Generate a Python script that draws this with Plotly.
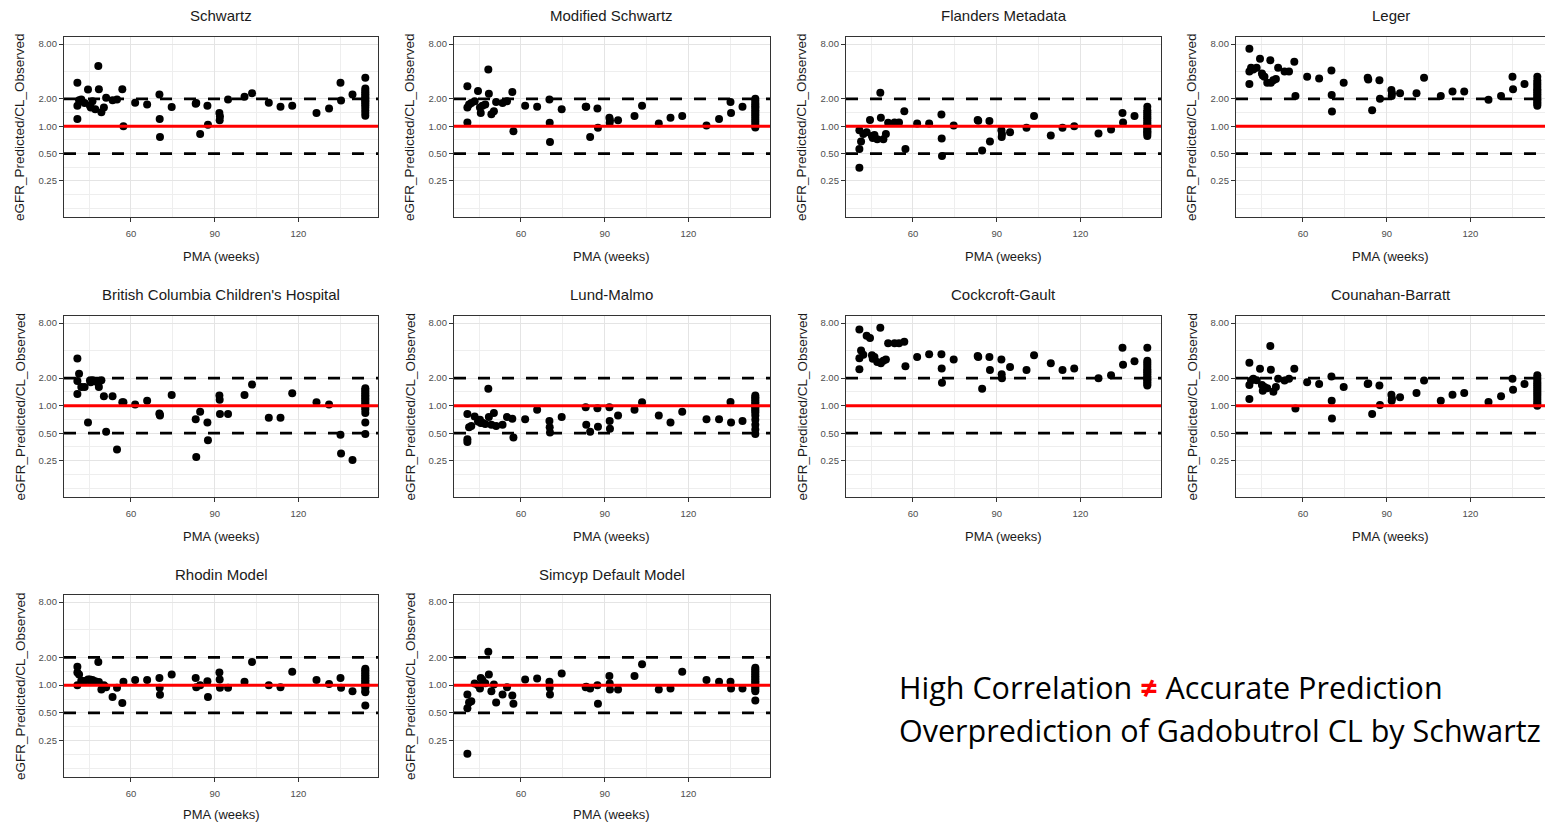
import plotly.graph_objects as go

W, H = 1545, 822

# Postmenstrual age of each subject (weeks); the same subjects appear in every panel
pma_weeks = [40.8, 40.8, 40.8, 41.4, 42.2, 43.4, 44.6, 45.3, 45.6, 46.2,
             47.2, 48.3, 48.5, 49.4, 50.3, 51.1, 53.4, 55.0, 56.9, 57.3,
             61.5, 65.8, 70.2, 70.3, 70.4, 74.6, 83.2, 83.4, 84.8, 87.4,
             87.6, 91.7, 91.8, 91.9, 94.8, 100.7, 103.4, 109.4, 113.6, 117.8,
             126.5, 131.0, 135.1, 135.3, 139.4,
             144.0, 144.0, 144.0, 144.0, 144.0, 144.0, 144.0, 144.0,
             144.0, 144.0, 144.0, 144.0, 144.0, 144.0, 144.0, 144.0]

# eGFR_Predicted / CL_Observed for each eGFR model
schwartz = [3.0, 1.2, 1.68, 1.93, 1.97, 1.8, 2.53, 1.68, 1.6, 1.88,
            1.53, 4.58, 2.55, 1.42, 1.6, 2.05, 1.93, 1.97, 2.55, 1.0,
            1.81, 1.73, 2.23, 1.2, 0.76, 1.62, 1.76, 1.8, 0.82, 1.68,
            1.04, 1.4, 1.16, 1.28, 1.97, 2.1, 2.3, 1.81, 1.63, 1.68,
            1.4, 1.56, 3.0, 1.92, 2.23,
            3.4, 2.6, 2.45, 2.35, 2.25, 2.15, 2.05, 2.0,
            1.92, 1.85, 1.78, 1.7, 1.6, 1.5, 1.4, 1.3]
modified_schwartz = [2.75, 1.1, 1.6, 1.73, 1.8, 1.88, 2.43, 1.6, 1.4, 1.68,
                     1.73, 4.2, 2.27, 1.35, 1.46, 1.84, 1.8, 1.88, 2.37, 0.88,
                     1.68, 1.63, 1.97, 1.09, 0.67, 1.53, 1.63, 1.63, 0.76, 1.56,
                     0.96, 1.24, 1.09, 1.16, 1.16, 1.29, 1.68, 1.07, 1.24, 1.29,
                     1.02, 1.2, 1.84, 1.4, 1.63,
                     2.0, 1.9, 1.8, 1.72, 1.65, 1.58, 1.5, 1.43,
                     1.36, 1.3, 1.24, 1.18, 1.12, 1.06, 1.0, 0.97]
flanders_metadata = [0.9, 0.56, 0.35, 0.68, 0.82, 0.86, 1.17, 0.78, 0.74, 0.8,
                     0.72, 2.33, 1.24, 0.72, 0.82, 1.09, 1.1, 1.1, 1.46, 0.56,
                     1.07, 1.07, 1.34, 0.73, 0.47, 1.02, 1.17, 1.15, 0.54, 1.14,
                     0.68, 0.9, 0.76, 0.82, 0.86, 0.96, 1.29, 0.79, 0.96, 1.0,
                     0.83, 0.92, 1.4, 1.1, 1.29,
                     1.63, 1.5, 1.42, 1.35, 1.28, 1.22, 1.16, 1.1,
                     1.05, 1.0, 0.96, 0.92, 0.88, 0.85, 0.82, 0.78]
leger = [7.1, 2.9, 4.0, 4.4, 4.2, 4.4, 5.5, 3.8, 3.6, 3.5,
         3.0, 5.3, 3.0, 3.2, 3.3, 4.4, 4.0, 4.0, 5.1, 2.15,
         3.5, 3.35, 4.1, 2.2, 1.45, 3.0, 3.4, 3.25, 1.5, 3.2,
         2.0, 2.5, 2.15, 2.3, 2.3, 2.3, 3.4, 2.15, 2.4, 2.4,
         1.95, 2.15, 3.5, 2.55, 2.9,
         3.5, 3.2, 3.0, 2.85, 2.7, 2.55, 2.45, 2.35,
         2.25, 2.15, 2.05, 1.98, 1.9, 1.82, 1.75, 1.68]
british_columbia = [3.27, 1.34, 1.86, 2.23, 1.6, 1.6, 0.655, 1.88, 1.8, 1.9,
                    1.85, 1.75, 1.6, 1.9, 1.27, 0.52, 1.27, 0.333, 1.09, 1.09,
                    1.03, 1.13, 0.82, 0.8, 0.78, 1.31, 0.71, 0.275, 0.86, 0.655,
                    0.42, 1.29, 1.16, 0.81, 0.81, 1.31, 1.7, 0.74, 0.74, 1.37,
                    1.09, 1.03, 0.48, 0.3, 0.255,
                    1.55, 1.48, 1.42, 1.36, 1.3, 1.25, 1.2, 1.15,
                    1.1, 1.05, 1.0, 0.95, 0.9, 0.83, 0.655, 0.49]
lund_malmo = [0.81, 0.4, 0.43, 0.58, 0.6, 0.76, 0.67, 0.7, 0.645, 0.65,
              0.63, 1.53, 0.75, 0.62, 0.83, 0.6, 0.62, 0.75, 0.72, 0.45,
              0.71, 0.9, 0.68, 0.58, 0.51, 0.75, 0.96, 0.62, 0.52, 0.94,
              0.59, 0.96, 0.68, 0.56, 0.78, 0.9, 1.09, 0.78, 0.655, 0.86,
              0.71, 0.71, 1.1, 0.655, 0.68,
              1.29, 1.24, 1.19, 1.14, 1.09, 1.04, 1.0, 0.96,
              0.92, 0.88, 0.84, 0.78, 0.7, 0.62, 0.55, 0.49]
cockcroft_gault = [6.8, 3.3, 2.5, 4.0, 3.6, 5.8, 5.5, 3.55, 3.25, 3.4,
                   3.0, 7.1, 2.9, 3.1, 3.2, 4.8, 4.8, 4.8, 5.0, 2.7,
                   3.4, 3.65, 3.65, 2.55, 1.78, 3.2, 3.5, 3.4, 1.53, 3.4,
                   2.45, 3.2, 2.2, 2.0, 2.65, 2.45, 3.55, 2.9, 2.45, 2.55,
                   2.0, 2.15, 4.3, 2.8, 3.05,
                   4.3, 3.1, 2.95, 2.8, 2.65, 2.5, 2.4, 2.3,
                   2.2, 2.1, 2.02, 1.95, 1.88, 1.8, 1.72, 1.66]
counahan_barratt = [2.95, 1.18, 1.68, 1.88, 1.97, 1.9, 2.53, 1.68, 1.46, 1.6,
                    1.55, 4.5, 2.47, 1.42, 1.6, 1.97, 1.88, 1.97, 2.53, 0.93,
                    1.8, 1.73, 2.08, 1.13, 0.725, 1.6, 1.73, 1.75, 0.81, 1.66,
                    1.02, 1.32, 1.13, 1.2, 1.24, 1.38, 1.88, 1.13, 1.32, 1.38,
                    1.1, 1.27, 1.97, 1.49, 1.73,
                    2.15, 2.02, 1.92, 1.82, 1.74, 1.66, 1.58, 1.5,
                    1.43, 1.36, 1.29, 1.22, 1.16, 1.1, 1.05, 1.0]
rhodin = [1.59, 1.37, 1.0, 1.31, 1.12, 1.107, 1.155, 1.15, 1.12, 1.14,
          1.1, 1.79, 1.08, 0.9, 1.0, 0.95, 0.744, 0.935, 0.639, 1.088,
          1.135, 1.135, 1.2, 0.935, 0.789, 1.31, 1.2, 0.95, 1.0, 1.1,
          0.744, 1.37, 1.15, 0.935, 0.935, 1.088, 1.79, 1.0, 0.95, 1.4,
          1.135, 1.03, 1.2, 0.935, 0.86,
          1.51, 1.45, 1.39, 1.33, 1.28, 1.23, 1.18, 1.13,
          1.09, 1.05, 1.01, 0.97, 0.93, 0.86, 0.84, 0.6]
simcyp_default = [0.79, 0.18, 0.56, 0.65, 0.67, 1.04, 1.0, 0.92, 1.2, 1.135,
                  1.05, 2.31, 1.31, 0.86, 1.02, 0.65, 0.79, 0.95, 0.77, 0.63,
                  1.155, 1.18, 1.09, 0.935, 0.79, 1.34, 0.95, 0.96, 0.92, 1.0,
                  0.63, 1.26, 1.04, 0.9, 0.9, 1.26, 1.69, 0.9, 0.92, 1.4,
                  1.135, 1.09, 1.09, 0.92, 0.92,
                  1.55, 1.48, 1.42, 1.36, 1.3, 1.25, 1.2, 1.15,
                  1.1, 1.06, 1.02, 0.98, 0.94, 0.9, 0.86, 0.68]

panel_titles = ["Schwartz", "Modified Schwartz", "Flanders Metadata", "Leger",
                "British Columbia Children's Hospital", "Lund-Malmo",
                "Cockcroft-Gault", "Counahan-Barratt",
                "Rhodin Model", "Simcyp Default Model"]
panel_values = [schwartz, modified_schwartz, flanders_metadata, leger,
                british_columbia, lund_malmo, cockcroft_gault, counahan_barratt,
                rhodin, simcyp_default]

x_ticks = [60, 90, 120]
x_minor = [45, 75, 105, 135]
y_ticks = [0.25, 0.5, 1, 2, 8]
y_ticktext = ["0.25", "0.50", "1.00", "2.00", "8.00"]
y_minor = [0.125, 0.177, 0.354, 0.707, 1.414, 4.0]
fold_limits = [0.5, 2]
identity_ratio = 1

for vals in panel_values:
    assert len(vals) == len(pma_weeks)

# panel geometry in pixels
col_left = [64, 454, 846, 1236]
col_right = [378, 770, 1161, 1545]
row_top = [37, 316, 595]
row_bot = [217, 497, 777]
xtitle_gap = [39, 39, 37]
PX_PER_WEEK = 2.79
X_MIN = 36.0
Y_RANGE = [-0.998, 0.980]

FONT = "Liberation Sans, Arial, sans-serif"
BORDER = "#333333"
GRID_MAJOR = "#E4E4E4"
GRID_MINOR = "#EEEEEE"
TICK_TXT = "#4D4D4D"

fig = go.Figure()
layout = dict(width=W, height=H, margin=dict(l=0, r=0, t=0, b=0),
              paper_bgcolor="white", plot_bgcolor="white",
              showlegend=False, font=dict(family=FONT))
shapes, annotations = [], []

for i, (title, vals) in enumerate(zip(panel_titles, panel_values)):
    r, c = divmod(i, 4)
    k = i + 1
    sfx = "" if k == 1 else str(k)
    l, rr = col_left[c], col_right[c]
    t, b = row_top[r], row_bot[r]
    x_max = X_MIN + (rr - l) / PX_PER_WEEK

    fig.add_trace(go.Scatter(
        x=pma_weeks, y=vals, mode="markers",
        marker=dict(color="black", size=8, line=dict(width=0)),
        xaxis="x" + sfx, yaxis="y" + sfx, hoverinfo="skip"))

    layout["xaxis" + sfx] = dict(
        domain=[l / W, rr / W], range=[X_MIN, x_max], anchor="y" + sfx,
        tickmode="array", tickvals=x_ticks, ticktext=[str(v) for v in x_ticks],
        ticks="outside", ticklen=4, tickwidth=1, tickcolor=BORDER,
        tickfont=dict(size=9.5, color=TICK_TXT, family=FONT),
        ticklabelstandoff=3,
        showgrid=True, gridcolor=GRID_MAJOR, gridwidth=1.1,
        minor=dict(tickvals=x_minor, showgrid=True, gridcolor=GRID_MINOR,
                   gridwidth=0.9, ticks=""),
        showline=True, linecolor=BORDER, linewidth=1.3, mirror=True,
        zeroline=False, fixedrange=True)
    layout["yaxis" + sfx] = dict(
        type="log", domain=[1 - b / H, 1 - t / H], range=Y_RANGE,
        anchor="x" + sfx,
        tickmode="array", tickvals=y_ticks, ticktext=y_ticktext,
        ticks="outside", ticklen=4, tickwidth=1, tickcolor=BORDER,
        tickfont=dict(size=9.5, color=TICK_TXT, family=FONT),
        showgrid=True, gridcolor=GRID_MAJOR, gridwidth=1.1,
        minor=dict(tickvals=y_minor, showgrid=True, gridcolor=GRID_MINOR,
                   gridwidth=0.9, ticks=""),
        showline=True, linecolor=BORDER, linewidth=1.3,
        mirror=(c != 3), zeroline=False, fixedrange=True)

    # two-fold limits (dashed) and line of identity (red)
    for yv in fold_limits:
        shapes.append(dict(type="line", xref="x" + sfx + " domain", yref="y" + sfx,
                           x0=0, x1=1, y0=yv, y1=yv, layer="above",
                           line=dict(color="black", width=2.8, dash="12px,12px")))
    shapes.append(dict(type="line", xref="x" + sfx + " domain", yref="y" + sfx,
                       x0=0, x1=1, y0=identity_ratio, y1=identity_ratio, layer="above",
                       line=dict(color="#FF0000", width=3)))

    cx = (l + min(rr, l + 315)) / 2
    annotations.append(dict(text=title, x=cx / W, y=1 - (t - 21) / H,
                            xref="paper", yref="paper", xanchor="center",
                            yanchor="middle", showarrow=False,
                            font=dict(size=15, color="#1A1A1A", family=FONT)))
    annotations.append(dict(text="PMA (weeks)", x=cx / W,
                            y=1 - (b + xtitle_gap[r]) / H,
                            xref="paper", yref="paper", xanchor="center",
                            yanchor="middle", showarrow=False,
                            font=dict(size=13, color="#1A1A1A", family=FONT)))
    annotations.append(dict(text="eGFR_Predicted/CL_Observed", textangle=-90,
                            x=(l - 44) / W, y=1 - ((t + b) / 2) / H,
                            xref="paper", yref="paper", xanchor="center",
                            yanchor="middle", showarrow=False,
                            font=dict(size=13.5, color="#1A1A1A", family=FONT)))

# take-home message
annotations.append(dict(
    text="High Correlation <span style='color:#FF0000'><b>≠</b></span> Accurate Prediction",
    x=897 / W, y=1 - 687 / H, xref="paper", yref="paper",
    xanchor="left", yanchor="middle", showarrow=False,
    font=dict(size=30.5, color="black", family="Open Sans, sans-serif")))
annotations.append(dict(
    text="Overprediction of Gadobutrol CL by Schwartz",
    x=897 / W, y=1 - 730 / H, xref="paper", yref="paper",
    xanchor="left", yanchor="middle", showarrow=False,
    font=dict(size=30.5, color="black", family="Open Sans, sans-serif")))

layout["shapes"] = shapes
layout["annotations"] = annotations
fig.update_layout(**layout)
fig.write_html("out.html")
